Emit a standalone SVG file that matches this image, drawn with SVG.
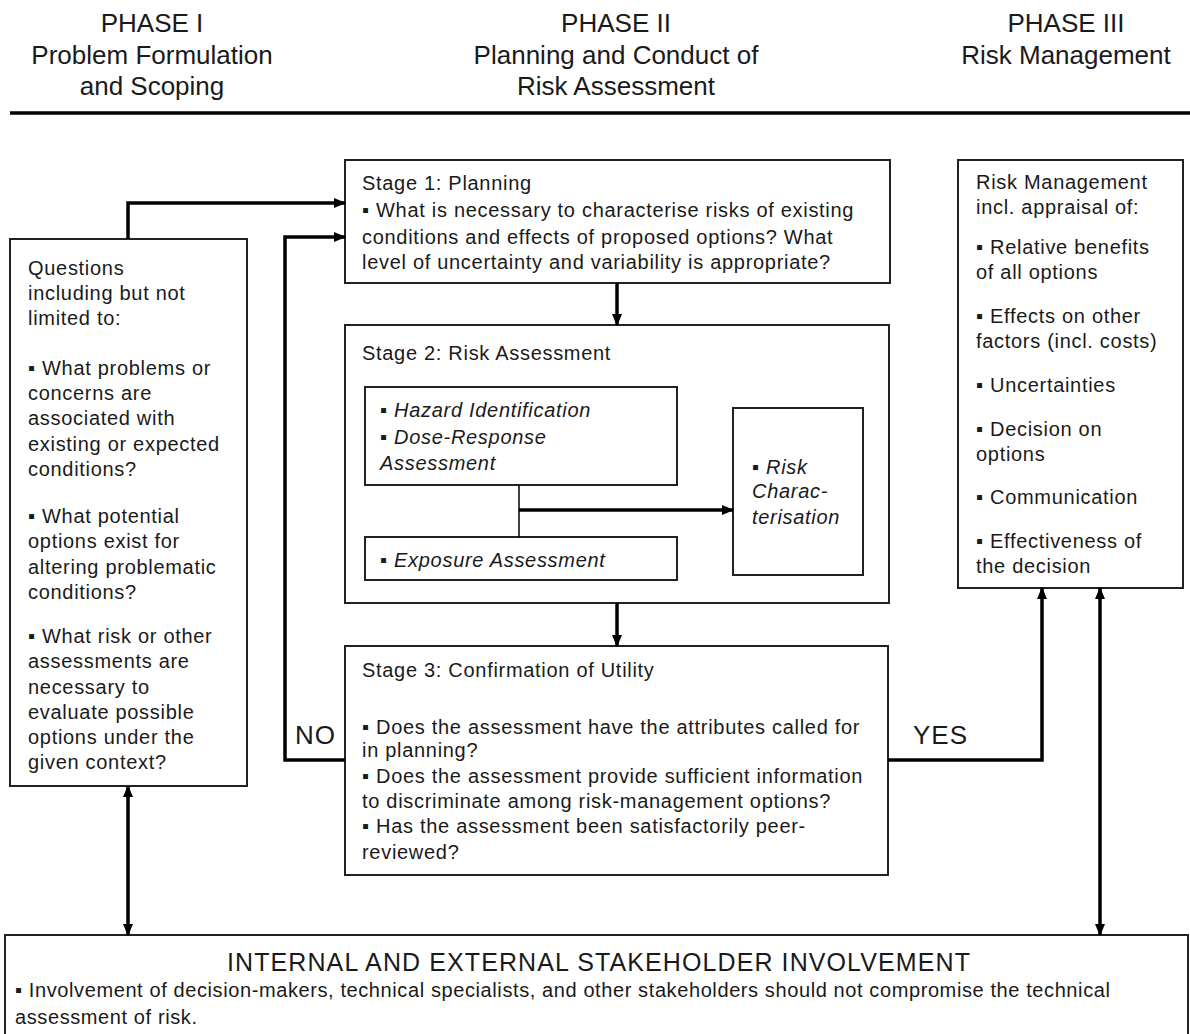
<svg xmlns="http://www.w3.org/2000/svg" width="1190" height="1034" viewBox="0 0 1190 1034">
<defs>
<marker id="ah" markerUnits="userSpaceOnUse" markerWidth="12" markerHeight="10" refX="11" refY="5" orient="auto-start-reverse">
<path d="M0,0 L12,5 L0,10 z" fill="#000"/>
</marker>
<style>
text{font-family:"Liberation Sans",Arial,sans-serif;font-size:20px;fill:#1a1a1a;letter-spacing:0.7px}
.hd{font-size:26px;text-anchor:middle;letter-spacing:0}
.lbl{font-size:26px;letter-spacing:1px}
.box{fill:#fff;stroke:#222;stroke-width:2}
.con{fill:none;stroke:#000;stroke-width:3.5}
.thin{fill:none;stroke:#000;stroke-width:1.5}
.it{font-style:italic}
</style>
</defs>
<rect width="1190" height="1034" fill="#fff"/>
<g id="header">
<text class="hd" x="152" y="32">PHASE I</text>
<text class="hd" x="152" y="64">Problem Formulation</text>
<text class="hd" x="152" y="95">and Scoping</text>
<text class="hd" x="616" y="32">PHASE II</text>
<text class="hd" x="616" y="64">Planning and Conduct of</text>
<text class="hd" x="616" y="95">Risk Assessment</text>
<text class="hd" x="1066" y="32">PHASE III</text>
<text class="hd" x="1066" y="64">Risk Management</text>
<line x1="10" y1="113" x2="1190" y2="113" stroke="#000" stroke-width="3.5"/>
</g>
<g id="questions">
<rect class="box" x="10" y="239" width="237" height="547"/>
<text x="28" y="275">Questions</text>
<text x="28" y="300">including but not</text>
<text x="28" y="325">limited to:</text>
<text x="28" y="375">▪ What problems or</text>
<text x="28" y="400">concerns are</text>
<text x="28" y="425">associated with</text>
<text x="28" y="451">existing or expected</text>
<text x="28" y="476">conditions?</text>
<text x="28" y="523">▪ What potential</text>
<text x="28" y="548">options exist for</text>
<text x="28" y="574">altering problematic</text>
<text x="28" y="599">conditions?</text>
<text x="28" y="643">▪ What risk or other</text>
<text x="28" y="668">assessments are</text>
<text x="28" y="694">necessary to</text>
<text x="28" y="719">evaluate possible</text>
<text x="28" y="744">options under the</text>
<text x="28" y="769">given context?</text>
</g>
<g id="stage1">
<rect class="box" x="345" y="160" width="545" height="123"/>
<text x="362" y="190">Stage 1:  Planning</text>
<text x="362" y="217">▪ What is necessary to characterise risks of existing</text>
<text x="362" y="244">conditions and effects of proposed options? What</text>
<text x="362" y="269">level of uncertainty and variability is appropriate?</text>
</g>
<g id="stage2">
<rect class="box" x="345" y="325" width="544" height="278"/>
<text x="362" y="360">Stage 2:  Risk Assessment</text>
</g>
<g id="hazard">
<rect class="box" x="365" y="387" width="312" height="98"/>
<text x="380" y="417">▪ <tspan class="it">Hazard Identification</tspan></text>
<text x="380" y="444">▪ <tspan class="it">Dose-Response</tspan></text>
<text class="it" x="380" y="470">Assessment</text>
</g>
<g id="exposure">
<rect class="box" x="365" y="537" width="312" height="43"/>
<text x="380" y="567">▪ <tspan class="it">Exposure Assessment</tspan></text>
</g>
<g id="riskchar">
<rect class="box" x="733" y="408" width="130" height="167"/>
<text x="752" y="474">▪ <tspan class="it">Risk</tspan></text>
<text class="it" x="752" y="498">Charac-</text>
<text class="it" x="752" y="524">terisation</text>
</g>
<g id="stage3">
<rect class="box" x="345" y="646" width="543" height="229"/>
<text x="362" y="677">Stage 3:  Confirmation of Utility</text>
<text x="362" y="734">▪ Does the assessment have the attributes called for</text>
<text x="362" y="757">in planning?</text>
<text x="362" y="783">▪ Does the assessment provide sufficient information</text>
<text x="362" y="808">to discriminate among risk-management options?</text>
<text x="362" y="833">▪ Has the assessment been satisfactorily peer-</text>
<text x="362" y="859">reviewed?</text>
</g>
<g id="riskmgmt">
<rect class="box" x="958" y="160" width="225" height="428"/>
<text x="976" y="189">Risk Management</text>
<text x="976" y="214">incl. appraisal of:</text>
<text x="976" y="254">▪ Relative benefits</text>
<text x="976" y="279">of all options</text>
<text x="976" y="323">▪ Effects on other</text>
<text x="976" y="348">factors (incl. costs)</text>
<text x="976" y="392">▪ Uncertainties</text>
<text x="976" y="436">▪ Decision on</text>
<text x="976" y="461">options</text>
<text x="976" y="504">▪ Communication</text>
<text x="976" y="548">▪ Effectiveness of</text>
<text x="976" y="573">the decision</text>
</g>
<g id="stakeholder">
<rect class="box" x="5" y="935" width="1183" height="110"/>
<text x="599" y="971" style="text-anchor:middle;font-size:25px;letter-spacing:1.1px">INTERNAL AND EXTERNAL STAKEHOLDER INVOLVEMENT</text>
<text x="15" y="997" style="letter-spacing:0.6px">▪ Involvement of decision-makers, technical specialists, and other stakeholders should not compromise the technical</text>
<text x="15" y="1024" style="letter-spacing:0.6px">assessment of risk.</text>
</g>
<g id="connectors">
<path class="con" d="M128,239 V203 H345" marker-end="url(#ah)"/>
<path class="con" d="M345,760 H285 V237 H345" marker-end="url(#ah)"/>
<path class="con" d="M617,283 V325" marker-end="url(#ah)"/>
<path class="thin" d="M519,485 V537"/>
<path class="con" d="M519,510 H733" marker-end="url(#ah)"/>
<path class="con" d="M617,603 V646" marker-end="url(#ah)"/>
<path class="con" d="M888,760 H1042 V588" marker-end="url(#ah)"/>
<path class="con" d="M1100,588 V935" marker-start="url(#ah)" marker-end="url(#ah)"/>
<path class="con" d="M128,786 V935" marker-start="url(#ah)" marker-end="url(#ah)"/>
<text class="lbl" x="295" y="744">NO</text>
<text class="lbl" x="913" y="744">YES</text>
</g>
</svg>
